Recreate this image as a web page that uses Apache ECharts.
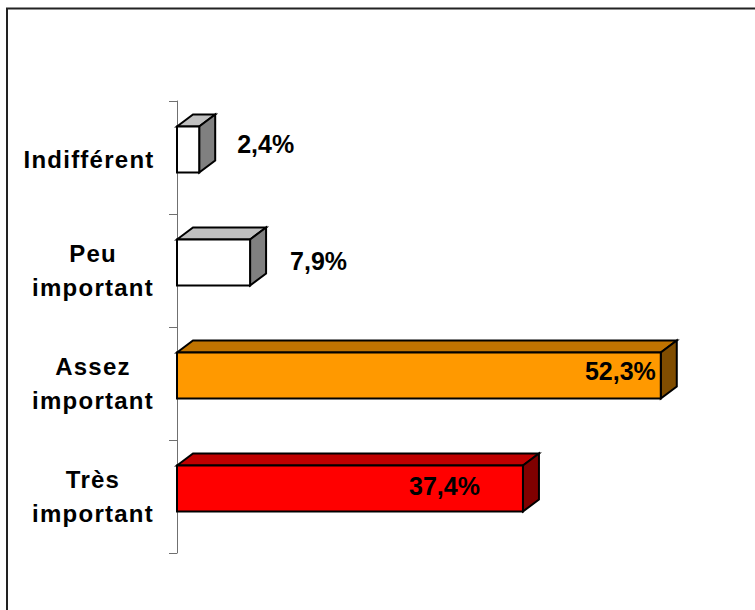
<!DOCTYPE html>
<html>
<head>
<meta charset="utf-8">
<title>Importance</title>
<script src="https://cdn.jsdelivr.net/npm/echarts@6/dist/echarts.min.js"></script>
<style>
html, body { margin: 0; padding: 0; background: #fff; }
#chart { width: 755px; height: 610px; }
/* axis labels are spaced out in the original */
#chart text[style*="24px"] { letter-spacing: 1.25px; }
</style>
</head>
<body>
<div id="chart"></div>
<script>
const categories = ['Indifférent', 'Peu\nimportant', 'Assez\nimportant', 'Très\nimportant'];
const values = [2.4, 7.9, 52.3, 37.4];

const frontColors = ['#ffffff', '#ffffff', '#ff9900', '#ff0000'];
const topColors = ['#c0c0c0', '#c0c0c0', '#c07300', '#c00000'];
const sideColors = ['#808080', '#808080', '#804d00', '#800000'];
// hand placed value labels: [dx from bar end, dy from bar centre, align]
const labelPlacement = [[38, -6, 'left'], [40, -2, 'left'], [-5, -5, 'right'], [-43, -3, 'right']];

const barHeight = 46;
const barShift = -8;
const depthX = 16;
const depthY = -12;

function renderBar(params, api) {
  const i = params.dataIndex;
  const start = api.coord([0, i]);
  const end = api.coord([api.value(0), i]);
  const x0 = start[0];
  const x1 = end[0];
  const y1 = start[1] + barShift + barHeight / 2;
  const y0 = y1 - barHeight;
  const line = { stroke: '#000', lineWidth: 2, lineJoin: 'miter' };
  const place = labelPlacement[i];
  return {
    type: 'group',
    children: [
      {
        type: 'polygon',
        shape: { points: [[x0, y0], [x0 + depthX, y0 + depthY], [x1 + depthX, y0 + depthY], [x1, y0]] },
        style: Object.assign({ fill: topColors[i] }, line)
      },
      {
        type: 'polygon',
        shape: { points: [[x1, y0], [x1 + depthX, y0 + depthY], [x1 + depthX, y1 + depthY], [x1, y1]] },
        style: Object.assign({ fill: sideColors[i] }, line)
      },
      {
        type: 'rect',
        shape: { x: x0, y: y0, width: x1 - x0, height: barHeight },
        style: Object.assign({ fill: frontColors[i] }, line)
      },
      {
        type: 'text',
        x: x1 + place[0],
        y: (y0 + y1) / 2 + place[1],
        style: {
          text: api.value(0).toFixed(1).replace('.', ',') + '%',
          fill: '#000',
          font: 'bold 25px "Liberation Sans", Arial, sans-serif',
          align: place[2],
          verticalAlign: 'middle'
        }
      }
    ]
  };
}

const chart = echarts.init(document.getElementById('chart'), null, { renderer: 'svg' });
chart.setOption({
  animation: false,
  backgroundColor: '#fff',
  // only the top and left edges of the frame fall inside the picture
  graphic: [{
    type: 'rect',
    shape: { x: 7, y: 8.5, width: 800, height: 700 },
    style: { fill: 'none', stroke: '#222', lineWidth: 2 },
    silent: true
  }],
  grid: { left: 177, top: 101, width: 555, height: 452 },
  xAxis: { type: 'value', min: 0, max: 60, show: false },
  yAxis: {
    type: 'category',
    inverse: true,
    data: categories,
    offset: 12,
    axisLine: { show: true, lineStyle: { color: '#707070', width: 1 } },
    axisTick: { show: true, length: 8, lineStyle: { color: '#707070', width: 1 } },
    axisLabel: {
      color: '#000',
      fontFamily: '"Liberation Sans", Arial, sans-serif',
      fontWeight: 'bold',
      fontSize: 24,
      lineHeight: 34,
      align: 'center',
      margin: 72,
      formatter: (label) => (label === 'Indifférent' ? '{wide|' + label + '}' : label),
      rich: {
        // single-line label sits a little left of and below the others
        wide: {
          color: '#000',
          fontFamily: '"Liberation Sans", Arial, sans-serif',
          fontWeight: 'bold',
          fontSize: 24,
          lineHeight: 34,
          padding: [4, 8, 0, 0]
        }
      }
    }
  },
  series: [{
    type: 'custom',
    coordinateSystem: 'cartesian2d',
    renderItem: renderBar,
    encode: { x: 0, y: 1 },
    clip: false,
    data: values.map((v, i) => [v, i])
  }]
});
</script>
</body>
</html>
